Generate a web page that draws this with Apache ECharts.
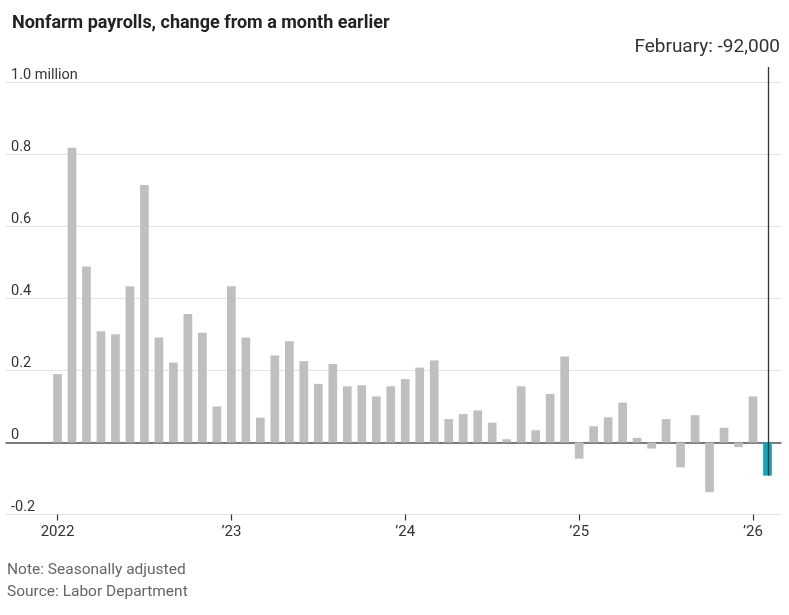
<!DOCTYPE html>
<html>
<head>
<meta charset="utf-8">
<script src="https://cdn.jsdelivr.net/npm/echarts@6/dist/echarts.min.js"></script>
<style>
  html, body { margin: 0; padding: 0; background: #fff; }
  #chart { width: 789px; height: 615px; }
</style>
</head>
<body>
<div id="chart"></div>
<script>
	// monthly change in nonfarm payrolls, millions, Jan 2022 .. Feb 2026
	var months = [];
	var years = ['2022', '2023', '2024', '2025', '2026'];
	for (var y = 0; y < years.length; y++) {
		for (var m = 1; m <= 12; m++) {
			if (years[y] === '2026' && m > 2) break;
			months.push(years[y] + '-' + (m < 10 ? '0' + m : m));
		}
	}

	var values2022 = [0.190, 0.819, 0.489, 0.309, 0.301, 0.434, 0.715, 0.292, 0.222, 0.357, 0.305, 0.100];
	var values2023 = [0.434, 0.292, 0.069, 0.242, 0.281, 0.226, 0.163, 0.218, 0.156, 0.159, 0.128, 0.156];
	var values2024 = [0.176, 0.208, 0.228, 0.065, 0.079, 0.089, 0.055, 0.009, 0.156, 0.034, 0.135, 0.239];
	var values2025 = [-0.045, 0.045, 0.070, 0.111, 0.013, -0.017, 0.065, -0.069, 0.076, -0.138, 0.041, -0.013];
	var values2026 = [0.128, -0.092];

	var yTicks = [-0.2, 0, 0.2, 0.4, 0.6, 0.8, 1.0];
	var latestLabel = 'February: -92,000';

	var values = [].concat(values2022, values2023, values2024, values2025, values2026);
	var lastIdx = values.length - 1;

	var GREY = '#bfbfbf';
	var TEAL = '#17a2b8';
	var font = 'Roboto, "Noto Sans", sans-serif';

	var chart = echarts.init(document.getElementById('chart'));

	var barData = values.map(function (v, i) {
		return {
			value: v,
			itemStyle: { color: i === lastIdx ? TEAL : GREY }
		};
	});

	function yLabel(v) {
		if (Math.abs(v - 1) < 1e-9) return '1.0 million';
		if (v === 0) return '0';
		return v.toFixed(1);
	}

	function xLabel(val, idx) {
		var yr = val.slice(0, 4);
		return idx === 0 ? yr : '\u2019' + yr.slice(2);
	}

	var option = {
		animation: false,
		title: {
			text: 'Nonfarm payrolls, change from a month earlier',
			left: 7,
			top: 9,
			textStyle: {
				fontFamily: font,
				fontWeight: 'bold',
				fontSize: 18,
				color: '#222'
			}
		},
		grid: [
			// wide grid: gridlines, y labels, zero line
			{ left: 6, right: 8, top: 82.5, bottom: 100.5 },
			// narrow grid: the bars
			{ left: 50.25, right: 14.25, top: 82.5, bottom: 100.5 }
		],
		xAxis: [
			{
				gridIndex: 0,
				type: 'value',
				min: 0,
				max: 1,
				axisLine: { show: true, onZero: true, lineStyle: { color: '#555', width: 1.5 } },
				axisTick: { show: false },
				axisLabel: { show: false },
				splitLine: { show: false }
			},
			{
				gridIndex: 1,
				type: 'category',
				data: months,
				boundaryGap: true,
				axisLine: { show: false, onZero: false },
				axisTick: {
					show: true,
					alignWithLabel: true,
					length: 6,
					interval: function (idx) { return idx % 12 === 0; },
					lineStyle: { color: '#333', width: 1.2 }
				},
				axisLabel: {
					interval: function (idx) { return idx % 12 === 0; },
					formatter: xLabel,
					margin: 10,
					fontFamily: font,
					fontSize: 15,
					color: '#333'
				}
			}
		],
		yAxis: [
			{
				gridIndex: 0,
				type: 'value',
				min: -0.2,
				max: 1.0,
				interval: 0.2,
				axisLine: { show: false },
				axisTick: { show: false },
				axisLabel: {
					inside: true,
					margin: 5,
					verticalAlign: 'bottom',
					padding: [0, 0, 0, 0],
					formatter: yLabel,
					fontFamily: font,
					fontSize: 14.5,
					color: '#333'
				},
				splitLine: { lineStyle: { color: '#e3e3e3', width: 1 } }
			},
			{
				gridIndex: 1,
				type: 'value',
				min: -0.2,
				max: 1.0,
				interval: 0.2,
				show: false
			}
		],
		series: [
			{
				type: 'bar',
				xAxisIndex: 1,
				yAxisIndex: 1,
				barWidth: '60%',
				data: barData,
				z: 1
			}
		]
	};

	chart.setOption(option);

	// annotation line and label for the latest month
	var bottomPt = chart.convertToPixel({ xAxisIndex: 1, yAxisIndex: 1 }, [lastIdx, values[lastIdx]]);
	var lx = Math.round(bottomPt[0]) + 0.5;

	chart.setOption({
		graphic: [
			{
				type: 'line',
				shape: { x1: lx, y1: 67, x2: lx, y2: bottomPt[1] },
				style: { stroke: '#333', lineWidth: 1.3 },
				z: 10
			},
			{
				type: 'text',
				right: 9,
				top: 38,
				style: {
					text: latestLabel,
					fontFamily: font,
					fontSize: 19,
					fill: '#333'
				}
			},
			{
				type: 'text',
				left: 7,
				top: 559,
				style: {
					text: 'Note: Seasonally adjusted\nSource: Labor Department',
					fontFamily: font,
					fontSize: 15.5,
					lineHeight: 22,
					fill: '#666'
				}
			}
		]
	});
</script>
</body>
</html>
